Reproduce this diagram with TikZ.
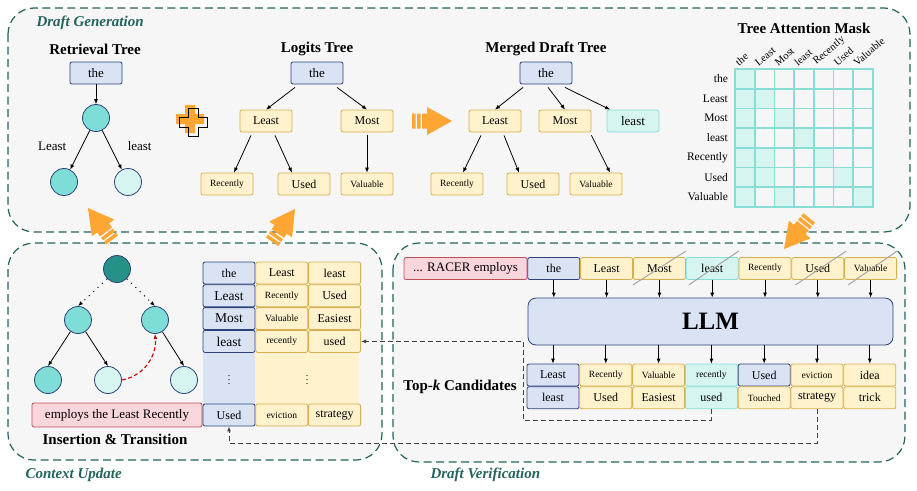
\documentclass[tikz,border=0pt]{standalone}
\usepackage{fontspec}
\setmainfont{Liberation Serif}
\usetikzlibrary{positioning,arrows.meta,calc}
\definecolor{navy}{RGB}{44,66,120}
\definecolor{softblue}{RGB}{218,227,243}
\definecolor{gold}{RGB}{214,176,80}
\definecolor{softyellow}{RGB}{255,242,204}
\definecolor{aqua}{RGB}{136,222,212}
\definecolor{softaqua}{RGB}{214,245,241}
\definecolor{tealmid}{RGB}{126,221,214}
\definecolor{tealdark}{RGB}{38,145,135}
\definecolor{rosebd}{RGB}{190,80,90}
\definecolor{softrose}{RGB}{249,214,220}
\definecolor{panelbd}{RGB}{36,100,92}
\definecolor{panelbg}{RGB}{246,246,246}
\definecolor{orangeacc}{RGB}{253,166,52}
\tikzset{
  tok/.style   ={draw=navy, fill=softblue, rounded corners=2pt, line width=0.8pt,
                 minimum width=52pt, minimum height=22pt, inner sep=1pt,
                 font=\fontsize{12}{12}\selectfont},
  ytok/.style  ={tok, draw=gold, fill=softyellow},
  atok/.style  ={tok, draw=aqua, fill=softaqua},
  rtok/.style  ={tok, draw=rosebd, fill=softrose, font=\fontsize{13}{13}\selectfont},
  sm/.style    ={font=\fontsize{9.5}{10}\selectfont},
  big/.style   ={font=\fontsize{13.5}{14}\selectfont},
  leaf/.style  ={circle, draw=navy, fill=tealmid, line width=0.8pt, minimum size=27pt, inner sep=0pt},
  ttl/.style   ={font=\bfseries\fontsize{15}{15}\selectfont},
  sec/.style   ={font=\bfseries\itshape\fontsize{15}{15}\selectfont, text=panelbd, anchor=west},
  lbl/.style   ={font=\fontsize{11.5}{12}\selectfont, inner sep=1pt},
  clbl/.style  ={font=\fontsize{10.5}{11}\selectfont, inner sep=1pt, anchor=south west, rotate=40},
  panel/.style ={draw=panelbd, fill=panelbg, line width=1.2pt, rounded corners=26pt,
                 dash pattern=on 8pt off 4.5pt},
  ar/.style    ={-{Latex[length=5pt,width=4pt]}, draw=black, line width=0.8pt},
  dotar/.style ={-{Latex[length=5pt,width=4pt]}, draw=black, line width=1pt, dash pattern=on 1pt off 5pt},
  redar/.style ={-{Latex[length=5pt,width=4pt]}, draw=red!80!black, line width=1.1pt, dash pattern=on 4pt off 2.5pt},
  dar/.style   ={-{Latex[length=5pt,width=4pt]}, draw=black!75, line width=1pt, dash pattern=on 5pt off 3pt},
  strike/.style={draw=black!35, line width=1pt},
  pluscross/.pic={\path[pic actions] (-5,-14) -- (5,-14) -- (5,-5) -- (14,-5) -- (14,5) -- (5,5)
                  -- (5,14) -- (-5,14) -- (-5,5) -- (-14,5) -- (-14,-5) -- (-5,-5) -- cycle;},
  fatarrow/.pic={\fill[orangeacc] (-40,-7.5) rectangle (-36.5,7.5) (-35,-7.5) rectangle (-31.5,7.5)
                 (-30,-7.5) rectangle (-25,7.5) (-25,-14) -- (0,0) -- (-25,14) -- cycle;},
}
\begin{document}
\begin{tikzpicture}[x=1pt, y=-1pt]
\useasboundingbox (0,0) rectangle (917,490);
% panels
\draw[panel] (8,8) rectangle (910,232);
\draw[panel] (8,243) rectangle (382,460);
\draw[panel] (393,243) rectangle (905,462);
\node[sec] (secgen) at (33,23) {Draft Generation};
\node[sec] (secupd) at (22,475) {Context Update};
\node[sec] (secver) at (427,475) {Draft Verification};

% retrieval tree
\node[ttl] (rtitle) at (95,49) {Retrieval Tree};
\node[tok,font=\fontsize{13}{13}\selectfont] (rthe) at (96,73) {the};
\node[leaf] (rc) at (96,118) {};
\node[leaf] (rl) at (64,182) {};
\node[leaf,fill=softaqua] (rr) at (128,182) {};
\draw[ar] (rthe) -- (rc);
\draw[ar] (rc) -- node[pos=0.4,left=12pt,font=\fontsize{13}{13}\selectfont] (lblL) {Least} (rl);
\draw[ar] (rc) -- node[pos=0.4,right=14pt,font=\fontsize{13}{13}\selectfont] (lbll) {least} (rr);
\pic[fill=orangeacc] at (190,119) {pluscross};
\pic[draw=black,line width=0.9pt] at (193.5,122) {pluscross};

% logits tree
\node[ttl] (ltitle) at (317,49) {Logits Tree};
\node[tok,font=\fontsize{13}{13}\selectfont] (lthe) at (317,73) {the};
\node[ytok] (lleast) at (266,121) {Least};
\node[ytok] (lmost) at (367,121) {Most};
\node[ytok,sm] (lrec) at (227,184) {Recently};
\node[ytok] (lused) at (304,184) {Used};
\node[ytok,sm] (lval) at (367,184) {Valuable};
\draw[ar] ([xshift=-22pt,yshift=-3pt]lthe.south) -- (lleast.north);
\draw[ar] ([xshift=20pt,yshift=-3pt]lthe.south) -- (lmost.north);
\draw[ar] ([xshift=-15pt,yshift=-3pt]lleast.south) -- ([xshift=7pt]lrec.north);
\draw[ar] ([xshift=9pt,yshift=-3pt]lleast.south) -- ([xshift=-12pt]lused.north);
\draw[ar] ([yshift=-3pt]lmost.south) -- (lval.north);
\pic at (452,121) {fatarrow};

% merged draft tree
\node[ttl] (mtitle) at (546,49) {Merged Draft Tree};
\node[tok,font=\fontsize{13}{13}\selectfont] (mthe) at (546,73) {the};
\node[ytok] (mleast) at (495,121) {Least};
\node[ytok] (mmost) at (565,121) {Most};
\node[atok,font=\fontsize{13}{13}\selectfont] (mlst) at (633,121) {least};
\node[ytok,sm] (mrec) at (457,184) {Recently};
\node[ytok] (mused) at (533,184) {Used};
\node[ytok,sm] (mval) at (596,184) {Valuable};
\draw[ar] ([xshift=-23pt,yshift=-3pt]mthe.south) -- (mleast.north);
\draw[ar] ([xshift=2pt,yshift=-3pt]mthe.south) -- (mmost.north);
\draw[ar] ([xshift=19pt,yshift=-3pt]mthe.south) -- ([xshift=-23pt]mlst.north);
\draw[ar] ([xshift=-14pt,yshift=-3pt]mleast.south) -- ([xshift=6pt]mrec.north);
\draw[ar] ([xshift=9pt,yshift=-3pt]mleast.south) -- ([xshift=-14pt]mused.north);
\draw[ar] ([yshift=-3pt]mmost.south east) -- ([xshift=14pt]mval.north);

% tree attention mask
\node[ttl] (mask) at (804,28) {Tree Attention Mask};
\begin{scope}[shift={(735,206.9)}, x=19.7pt, y=19.7pt]
\fill[softaqua] (0,0) rectangle (1,7) (1,5) rectangle (2,6) (2,4) rectangle (3,5) (3,3) rectangle (4,4)
  (4,2) rectangle (5,3) (5,1) rectangle (6,2) (6,0) rectangle (7,1) (1,1) rectangle (2,3) (2,0) rectangle (3,1);
\draw[aqua, line width=1.6pt, step=1] (0,0) grid (7,7) (0,0) rectangle (7,7);
\node[lbl,anchor=east] (mr1) at (-0.3,6.5) {the};
\node[lbl,anchor=east] (mr2) at (-0.3,5.5) {Least};
\node[lbl,anchor=east] (mr3) at (-0.3,4.5) {Most};
\node[lbl,anchor=east] (mr4) at (-0.3,3.5) {least};
\node[lbl,anchor=east] (mr5) at (-0.3,2.5) {Recently};
\node[lbl,anchor=east] (mr6) at (-0.3,1.5) {Used};
\node[lbl,anchor=east] (mr7) at (-0.3,0.5) {Valuable};
\node[clbl] (mc1) at (0.2,7.05) {the};
\node[clbl] (mc2) at (1.2,7.05) {Least};
\node[clbl] (mc3) at (2.2,7.05) {Most};
\node[clbl] (mc4) at (3.2,7.05) {least};
\node[clbl] (mc5) at (4.2,7.05) {Recently};
\node[clbl] (mc6) at (5.2,7.05) {Used};
\node[clbl] (mc7) at (6.2,7.05) {Valuable};
\end{scope}

% context update
\node[leaf,fill=tealdark] (croot) at (117,269) {};
\node[leaf] (cl) at (78,320) {};
\node[leaf] (cr) at (155,320) {};
\node[leaf] (cll) at (48,380) {};
\node[leaf,fill=softaqua] (clr) at (108,380) {};
\node[leaf,fill=softaqua] (crr) at (184,380) {};
\draw[dotar] (croot.south west) -- (cl.north);
\draw[dotar] (croot.south east) -- (cr.north);
\draw[ar] (cl) -- (cll.north);
\draw[ar] (cl) -- (clr.north);
\draw[ar] (cr) -- (crr.north);
\draw[redar] (clr.east) to[out=10,in=-85] (cr.south);
\node[rtok,minimum width=170pt,minimum height=24pt] (ctx) at (117,415) {employs the Least Recently};
\node[ttl] (ins) at (115,439) {Insertion \& Transition};

\fill[softblue] (203,262) rectangle (255,426);
\fill[softyellow] (255,262) rectangle (359,426);
\node[tok] (t11) at (229,273) {the};
\node[ytok,right=0pt of t11] (t12) {Least};
\node[ytok,right=0pt of t12] (t13) {least};
\node[tok,big,below=0pt of t11] (t21) {Least};
\node[ytok,sm,right=0pt of t21] (t22) {Recently};
\node[ytok,right=0pt of t22] (t23) {Used};
\node[tok,big,below=0pt of t21] (t31) {Most};
\node[ytok,sm,right=0pt of t31] (t32) {Valuable};
\node[ytok,right=0pt of t32] (t33) {Easiest};
\node[tok,big,below=0pt of t31] (t41) {least};
\node[ytok,sm,right=0pt of t41] (t42) {recently};
\node[ytok,right=0pt of t42] (t43) {used};
\node (tdots1) at (229,377) {$\vdots$};
\node (tdots2) at (307,377) {$\vdots$};
\node[tok] (t51) at (229,415) {Used};
\node[ytok,sm,right=0pt of t51] (t52) {eviction};
\node[ytok,right=0pt of t52] (t53) {strategy};

% draft verification
\node[rtok,minimum width=123pt] (ctxv) at (465.5,268.5) {... RACER employs};
\node[tok,right=0pt of ctxv] (v1) {the};
\node[ytok,right=0pt of v1] (v2) {Least};
\node[ytok,right=0pt of v2] (v3) {Most};
\node[atok,right=0pt of v3] (v4) {least};
\node[ytok,sm,right=0pt of v4] (v5) {Recently};
\node[ytok,right=0pt of v5] (v6) {Used};
\node[ytok,sm,right=0pt of v6] (v7) {Valuable};
\draw[strike] ([yshift=-5pt]v3.south west) -- ([yshift=6pt]v3.north east);
\draw[strike] ([xshift=3pt,yshift=-5pt]v4.south west) -- ([yshift=6pt]v4.north east);
\draw[strike] ([xshift=4pt,yshift=-5pt]v6.south west) -- ([xshift=2pt,yshift=6pt]v6.north east);
\draw[strike] ([xshift=4pt,yshift=-5pt]v7.south west) -- ([yshift=6pt]v7.north east);

\node[tok,minimum width=365pt,minimum height=47pt,rounded corners=8pt,
      font=\bfseries\fontsize{25}{25}\selectfont] (llm) at (710.5,321.5) {LLM};
\draw[ar] (v1) -- (v1 |- llm.north); \draw[ar] (v2) -- (v2 |- llm.north);
\draw[ar] (v3) -- (v3 |- llm.north); \draw[ar] (v4) -- (v4 |- llm.north);
\draw[ar] (v5) -- (v5 |- llm.north); \draw[ar] (v6) -- (v6 |- llm.north);
\draw[ar] (v7) -- (v7 |- llm.north);

\node[tok] (c1) at (553,375) {Least};
\node[ytok,sm,right=0pt of c1] (c2) {Recently};
\node[ytok,sm,right=0pt of c2] (c3) {Valuable};
\node[atok,sm,right=0pt of c3] (c4) {recently};
\node[tok,right=0pt of c4] (c5) {Used};
\node[ytok,sm,right=0pt of c5] (c6) {eviction};
\node[ytok,right=0pt of c6] (c7) {idea};
\node[tok,below=0pt of c1] (d1) {least};
\node[ytok,right=0pt of d1] (d2) {Used};
\node[ytok,right=0pt of d2] (d3) {Easiest};
\node[atok,right=0pt of d3] (d4) {used};
\node[ytok,sm,right=0pt of d4] (d5) {Touched};
\node[ytok,right=0pt of d5] (d6) {strategy};
\node[ytok,right=0pt of d6] (d7) {trick};
\draw[ar] (llm.south -| c1) -- (c1); \draw[ar] (llm.south -| c2) -- (c2);
\draw[ar] (llm.south -| c3) -- (c3); \draw[ar] (llm.south -| c4) -- (c4);
\draw[ar] (llm.south -| c5) -- (c5); \draw[ar] (llm.south -| c6) -- (c6);
\draw[ar] (llm.south -| c7) -- (c7);
\node[ttl] (topk) at (460,387) {Top-\textit{k} Candidates};

% feedback to context table
\coordinate (bend1) at (523,420);
\coordinate (bend2) at (229,443);
\draw[dar] (d4.south) |- (bend1) |- (t43.east);
\draw[dar] (d6.south) |- (bend2) -- (t51.south);

% stage arrows
\pic[rotate=127] at (88,208) {fatarrow};
\pic[rotate=55] at (295,209) {fatarrow};
\pic[rotate=231] at (784,249) {fatarrow};
\end{tikzpicture}
\end{document}
